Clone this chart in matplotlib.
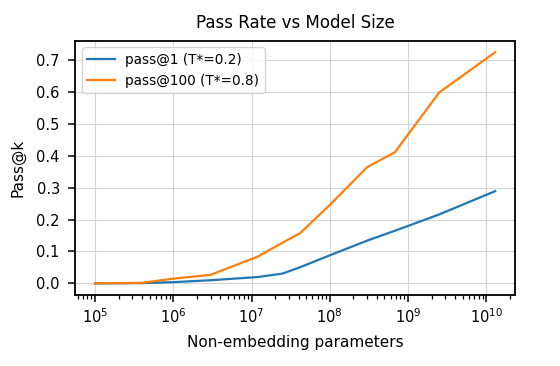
import matplotlib
matplotlib.use("Agg")
import matplotlib.pyplot as plt

params = [1e5, 4e5, 1e6, 3e6, 1.2e7, 2.5e7, 4.2e7, 1e8, 3e8, 6.8e8, 2.5e9, 1.3e10]
pass1 = [0.0, 0.001, 0.004, 0.010, 0.020, 0.031, 0.051, 0.088, 0.134, 0.165, 0.216, 0.289]
pass100 = [0.0, 0.002, 0.015, 0.027, 0.084, 0.128, 0.158, 0.246, 0.364, 0.411, 0.598, 0.724]

fig = plt.figure(figsize=(5.6, 3.66), dpi=100)
ax = fig.add_axes([0.134, 0.194, 0.786, 0.695])
ax.plot(params, pass1, color="#1f77b4", lw=1.6, label="pass@1 (T*=0.2)")
ax.plot(params, pass100, color="#ff7f0e", lw=1.6, label="pass@100 (T*=0.8)")
ax.set_xscale("log")
ax.grid(True, which="major", color="#d5d5d5", lw=0.8)
ax.set_yticks([0.0, 0.1, 0.2, 0.3, 0.4, 0.5, 0.6, 0.7])
ax.set_title("Pass Rate vs Model Size", fontsize=12, pad=9)
ax.set_xlabel("Non-embedding parameters", fontsize=11, labelpad=6.5)
ax.set_ylabel("Pass@k", fontsize=11, labelpad=7.5)
ax.tick_params(labelsize=10.5)
ax.tick_params(which="major", length=5, width=1.1)
ax.tick_params(which="minor", length=3, width=0.9)
ax.tick_params(axis="y", pad=6)
for s in ax.spines.values():
    s.set_linewidth(1.3)
ax.legend(loc="upper left", fontsize=9.8)
fig.savefig("out.png", dpi=100)
